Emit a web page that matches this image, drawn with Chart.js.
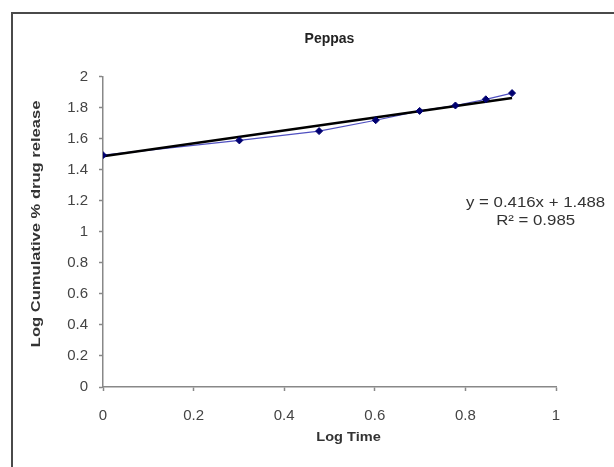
<!DOCTYPE html>
<html>
<head>
<meta charset="utf-8">
<script src="https://cdn.jsdelivr.net/npm/chart.js@4/dist/chart.umd.min.js"></script>
<style>
  html, body { margin: 0; padding: 0; background: #fff; }
  #wrap { position: relative; width: 614px; height: 467px; overflow: hidden; }
  #frame { position: absolute; left: 11px; top: 12px; width: 700px; height: 600px;
           border-left: 2px solid #4a4a4a; border-top: 2px solid #4a4a4a; }
  canvas { position: absolute; left: 0; top: 0; }
</style>
</head>
<body>
<div id="wrap">
  <div id="frame"></div>
  <canvas id="c" width="614" height="467"></canvas>
</div>
<script>
// Data
const logTime = [0, 0.301, 0.477, 0.602, 0.699, 0.778, 0.845, 0.903];
const logRelease = [1.495, 1.59, 1.65, 1.72, 1.78, 1.815, 1.855, 1.895];
const xTicks = [0, 0.2, 0.4, 0.6, 0.8, 1];
const yTicks = [0, 0.2, 0.4, 0.6, 0.8, 1, 1.2, 1.4, 1.6, 1.8, 2];
// Trendline shown on chart
const trendSlope = 0.416;
const trendIntercept = 1.488;
const trendR2 = 0.985;
const trendLabelAt = [0.955, 1.13]; // data coords for equation label
const chartTitle = 'Peppas';
const xTitle = 'Log Time';
const yTitle = 'Log Cumulative % drug release';

const dataPts = logTime.map((x, i) => ({ x: x, y: logRelease[i] }));
const xEnds = [logTime[0], logTime[logTime.length - 1]];
const trendPts = xEnds.map(x => ({ x: x, y: trendSlope * x + trendIntercept }));
const FONT = '"Liberation Sans", Arial, sans-serif';

function stretchedText(ctx, text, x, y, rot, sx, font, color) {
  ctx.save();
  ctx.translate(x, y);
  ctx.rotate(rot);
  ctx.scale(sx, 1);
  ctx.font = font;
  ctx.fillStyle = color;
  ctx.textAlign = 'center';
  ctx.textBaseline = 'middle';
  ctx.fillText(text, 0, 0);
  ctx.restore();
}

const textPlugin = {
  id: 'texts',
  afterDatasetsDraw(chart) {
    const ctx = chart.ctx;
    const ca = chart.chartArea;
    const xs = chart.scales.x, ys = chart.scales.y;
    const px = xs.getPixelForValue(trendLabelAt[0]);
    const py = ys.getPixelForValue(trendLabelAt[1]);
    stretchedText(ctx, 'y = ' + trendSlope.toFixed(3) + 'x + ' + trendIntercept.toFixed(3),
      px, py - 9, 0, 1.2, '14px ' + FONT, '#333');
    stretchedText(ctx, 'R² = ' + trendR2.toFixed(3), px, py + 9, 0, 1.2, '14px ' + FONT, '#333');
    // axis titles
    stretchedText(ctx, xTitle, (ca.left + ca.right) / 2 + 19, ca.bottom + 50, 0, 1.12,
      'bold 13px ' + FONT, '#333');
    stretchedText(ctx, yTitle, ca.left - 66, (ca.top + ca.bottom) / 2 - 8, -Math.PI / 2, 1.38,
      'bold 12px ' + FONT, '#333');
  }
};

const fmt = v => String(Number(v.toFixed(1)));

new Chart(document.getElementById('c'), {
  type: 'scatter',
  data: {
    datasets: [
      { label: 'points', data: dataPts, showLine: false, pointStyle: 'rectRot',
        pointRadius: 3.5, backgroundColor: '#000070', borderColor: '#000070', borderWidth: 1, order: 0 },
      { label: 'trend', data: trendPts, showLine: true, pointRadius: 0,
        borderColor: '#000', borderWidth: 2.5, order: 1 },
      { label: 'series', data: dataPts, showLine: true, pointRadius: 0,
        borderColor: '#5050c0', borderWidth: 1.2, order: 2 }
    ]
  },
  options: {
    responsive: false,
    animation: false,
    layout: { padding: { left: 13, right: 58, top: 13, bottom: 0 } },
    plugins: {
      legend: { display: false },
      tooltip: { enabled: false },
      title: { display: true, text: chartTitle, fullSize: false, color: '#222',
        font: { family: FONT, size: 14, weight: 'bold' },
        padding: { top: 18, bottom: 29 } }
    },
    scales: {
      x: {
        type: 'linear', min: 0, max: 1,
        afterBuildTicks: s => { s.ticks = xTicks.map(v => ({ value: v })); },
        afterFit: s => { s.height = 80; },
        ticks: { color: '#444', padding: 16, callback: v => fmt(v),
          font: { family: FONT, size: 15 } },
        grid: { drawOnChartArea: false, tickLength: 4, color: '#888', tickWidth: 1.5 },
        border: { color: '#888', width: 1.5 },
        title: { display: false }
      },
      y: {
        type: 'linear', min: 0, max: 2,
        afterBuildTicks: s => { s.ticks = yTicks.map(v => ({ value: v })); },
        afterFit: s => { s.width = 90; },
        ticks: { color: '#444', padding: 11, callback: v => fmt(v),
          font: { family: FONT, size: 15 } },
        grid: { drawOnChartArea: false, tickLength: 4, color: '#888', tickWidth: 1.5 },
        border: { color: '#888', width: 1.5 },
        title: { display: false }
      }
    }
  },
  plugins: [textPlugin]
});
</script>
</body>
</html>
